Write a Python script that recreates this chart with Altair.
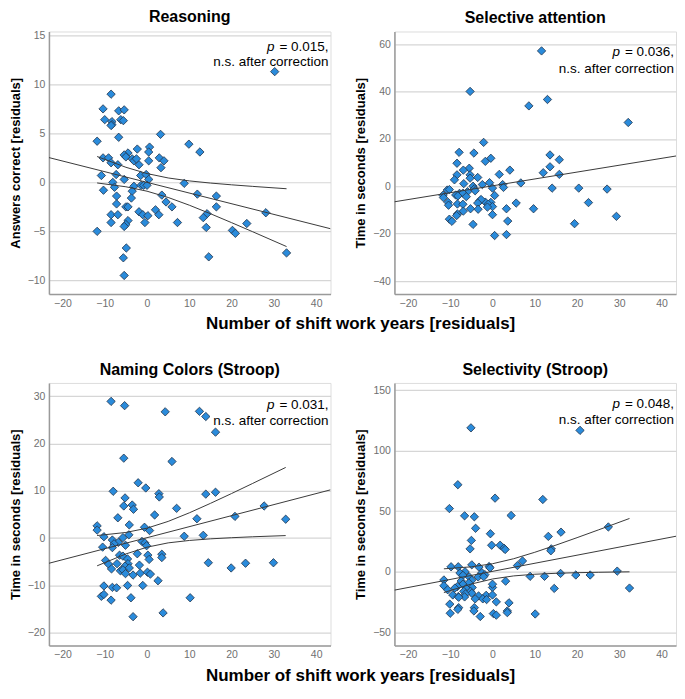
import altair as alt
import pandas as pd

X_DOMAIN = [-23.2, 43.4]
X_TICKS = [-20, -10, 0, 10, 20, 30, 40]
X_TITLE = "Number of shift work years [residuals]"

# ---------------- Reasoning ----------------
reas_x = [30.2, -8.5, -10.4, -10.0, -8.3, -8.3, -8.5, -6.7, -5.4, -6.2, -5.6, -11.8, -6.7, 3.2, 9.9, 12.5,
          -2.3, 0.6, 0.4, -4.5, -5.4, -5.0, -3.5, -3.1, 2.9, 4.0, 0.4, -10.4, -9.1, -8.5, -6.9, -1.9, -2.5,
          3.3, -7.3, -10.8, -1.5, -0.2, 0.4, -5.4, -8.1, -7.7, -10.3, -3.1, -1.4, -0.8, 0.0, 8.8, -3.5,
          -3.7, -7.2, 3.5, 11.9, 16.4, 4.5, -7.2, -5.0, -4.5, 5.9, 16.4, 2.0, -1.9, -1.0, 0.2, 2.8, -8.5,
          -6.9, 28.1, 14.2, 13.3, -4.5, -0.5, -8.5, 7.2, 23.6, -5.0, -5.4, 14.0, -11.8, 20.2, 20.9, -4.9,
          -5.6, 14.6, 33.0, -5.4]
reas_y = [11.3, 9.0, 7.5, 6.4, 6.2, 5.9, 5.8, 7.3, 7.4, 6.4, 6.3, 4.2, 4.6, 4.9, 3.9, 3.1,
          3.4, 3.6, 3.1, 3.0, 2.8, 2.6, 2.4, 2.2, 2.5, 2.2, 2.2, 2.5, 2.5, 2.0, 1.8, 1.8, 2.4,
          1.5, 0.8, 0.7, 0.7, 0.8, 0.3, 0.3, 0.0, -0.5, -0.8, -0.4, -0.3, -0.3, -0.3, -0.1, -0.9,
          -1.6, -1.4, -1.3, -1.2, -1.4, -2.0, -2.2, -2.5, -2.5, -2.5, -2.5, -2.8, -3.0, -3.3, -3.4, -3.3, -3.3,
          -3.3, -3.1, -3.2, -3.6, -3.9, -4.1, -4.1, -4.1, -4.2, -4.3, -4.5, -4.6, -5.0, -4.9, -5.2, -6.7,
          -7.7, -7.6, -7.2, -9.5]
reas_fit_y = [2.53, -4.73]
reas_ci_x = [-11.8, -5, 0, 5, 10, 15, 20, 25, 33]
reas_ci_hi = [2.64, 1.54, 0.90, 0.45, 0.15, -0.07, -0.25, -0.41, -0.65]
reas_ci_lo = [-0.06, -0.45, -0.90, -1.54, -2.33, -3.20, -4.11, -5.04, -6.55]

# ---------------- Selective attention ----------------
sel_x = [11.6, -5.3, 13.0, 8.6, 32.1, -2.1, -7.9, -4.4, 13.6, 15.8, -0.4, -1.7, -8.4, -5.5, 13.6, -6.9,
         4.1, -8.4, -5.3, -3.5, 1.6, 12.0, 15.8, -5.3, -9.0, -0.7, 6.7, -6.8, -2.4, -4.6, 2.4, 2.6, 0.0,
         -4.3, 14.1, 20.4, 27.1, -10.7, -10.2, -4.1, -5.9, -7.8, -7.0, -8.7, -11.7, -11.6, -6.2, -8.2, 0.5,
         -3.0, -1.7, -2.7, -3.5, -0.4, -1.0, 0.0, -1.2, 5.6, 22.7, -10.5, -10.4, -8.3, -7.0, -5.2, -3.4,
         3.3, 9.7, 0.0, -8.3, -8.5, -6.9, -10.2, -9.6, -4.6, 3.6, 29.3, 19.4, 0.5, 3.3]
sel_y = [57.1, 40.0, 36.6, 33.9, 26.9, 18.5, 14.3, 14.0, 13.2, 11.2, 11.8, 10.5, 9.7, 7.6, 8.2, 6.8,
         6.8, 4.8, 4.8, 3.7, 5.0, 5.7, 5.0, 3.4, 2.7, 1.5, 1.4, 1.1, 0.7, 0.0, 0.7, -0.5, -0.8,
         -1.1, -0.8, -0.8, -1.2, -1.6, -1.4, -1.9, -2.3, -3.0, -2.9, -3.7, -3.8, -4.8, -4.4, -4.1, -3.9,
         -6.1, -6.7, -5.6, -7.1, -6.8, -7.6, -8.6, -8.8, -7.1, -6.9, -6.8, -8.0, -7.5, -7.6, -9.5, -9.7,
         -9.5, -9.5, -12.0, -11.7, -12.4, -10.5, -13.9, -14.8, -16.1, -14.7, -12.7, -15.8, -20.8, -20.4]
sel_fit_y = [-6.56, 12.76]

# ---------------- Naming Colors (Stroop) ----------------
nam_x = [-8.5, -5.3, 4.3, 12.4, 13.9, 16.2, -5.5, 5.9, -2.1, -0.3, -8.0, 2.8, 2.9, 16.2, 13.9, -5.2,
         -5.5, -3.5, -3.2, 7.0, 27.7, -6.9, 1.8, 11.8, 20.8, 32.8, -4.2, -11.8, -11.8, -0.6, 0.6, -4.3,
         -10.2, -5.7, 8.8, 13.3, -8.2, -6.8, -1.2, -0.5, -0.1, -5.1, -7.8, -10.5, -8.2, -2.3, -6.5, -5.7,
         0.2, 3.5, 3.5, 0.5, -4.6, -9.8, -9.1, -7.1, -4.5, -1.8, -5.2, -8.4, -4.2, -6.3, -5.7, -5.1, -1.6,
         0.1, 0.8, -3.3, 14.5, 19.9, 23.3, 29.9, 2.6, -10.2, -8.2, -7.2, -4.6, -1.0, -10.8, -10.2, -8.5,
         -3.8, 10.2, 3.8, -3.3]
nam_y = [28.9, 28.0, 26.7, 26.8, 25.7, 22.4, 16.9, 16.2, 11.7, 10.6, 9.9, 9.4, 8.7, 9.7, 9.3, 8.5,
         6.8, 7.0, 6.1, 6.3, 6.8, 4.3, 4.9, 4.1, 4.6, 4.0, 2.8, 2.6, 1.7, 2.3, 1.6, 0.7,
         0.3, 0.1, 0.4, 0.6, -0.4, -0.9, -0.7, -1.0, -1.6, -1.5, -1.2, -1.9, -2.0, -3.3, -3.6, -3.8,
         -3.6, -3.4, -4.1, -4.5, -4.4, -4.7, -5.5, -5.4, -5.4, -5.7, -5.9, -6.5, -6.3, -6.9, -6.7, -7.5, -7.4,
         -7.2, -7.6, -7.8, -5.2, -6.3, -5.3, -5.2, -9.0, -10.1, -10.4, -10.5, -10.0, -10.0, -12.3, -11.9, -13.1,
         -12.6, -12.6, -15.8, -16.6]
nam_fit_y = [-5.31, 10.21]
nam_ci_x = [-11.8, -5, 0, 5, 10, 15, 20, 25, 32.8]
nam_ci_hi = [0.55, 1.20, 2.11, 3.54, 5.35, 7.35, 9.43, 11.57, 14.94]
nam_ci_lo = [-5.85, -3.34, -1.91, -1.00, -0.49, -0.15, 0.09, 0.29, 0.54]

# ---------------- Selectivity (Stroop) ----------------
stv_x = [-5.1, 20.7, -8.2, 0.6, 11.9, -10.2, -6.6, -4.3, 4.4, -4.0, 27.4, 16.2, 13.2, -0.5, -5.0, -0.2,
         1.8, 2.7, 3.0, -5.3, 13.9, 13.8, 7.1, 5.9, -4.9, -9.8, -8.1, -3.2, -0.8, -0.6, -6.5, -7.7, -2.5,
         -1.8, 29.5, -7.0, -5.5, -3.4, -2.1, 8.9, 12.3, 16.1, 19.7, 23.1, -11.5, -4.9, -7.4, -5.6, 3.1,
         -7.0, -4.8, -8.3, -11.5, -8.9, 0.0, 0.0, 14.6, 32.4, -10.6, -6.2, -6.8, -5.2, -4.9, -6.4, -6.6,
         -9.4, -8.1, -1.5, 0.0, -3.3, -2.3, -1.4, -4.1, -8.0, 0.9, 3.9, -8.0, -8.2, -10.1, -4.3, -4.4,
         -2.9, -10.0, 3.5, 3.5, 0.2, 0.9, 10.1]
stv_y = [118.9, 116.8, 71.9, 60.8, 59.7, 52.2, 46.2, 45.4, 46.5, 35.9, 37.0, 32.7, 29.2, 31.4, 25.9, 21.9,
         21.9, 19.5, 18.4, 18.9, 18.9, 17.3, 8.9, 5.1, 5.7, 4.1, 4.1, 3.8, 4.3, 3.2, 0.0, -1.1, -0.8,
         -2.4, 0.5, -3.0, -4.3, -4.3, -4.1, -3.8, -3.8, -1.4, -2.7, -2.7, -6.8, -7.0, -7.6, -9.2, -7.8,
         -10.3, -13.0, -12.2, -11.6, -13.5, -13.0, -10.3, -13.8, -13.5, -14.9, -13.8, -16.2, -16.2, -17.8, -18.4, -20.8,
         -19.2, -20.5, -19.5, -19.2, -20.0, -22.4, -23.0, -22.4, -21.1, -24.9, -25.7, -29.7, -31.1, -26.8, -29.7, -32.4,
         -37.0, -34.3, -32.4, -33.8, -34.6, -35.9, -34.9]
stv_fit_y = [-15.20, 29.33]
stv_ci_x = [-11.5, -5, 0, 5, 10, 15, 20, 25, 32.4]
stv_ci_hi = [2.4, 4.05, 6.6, 10.75, 16.06, 21.98, 28.16, 34.5, 44.0]
stv_ci_lo = [-17.2, -10.15, -6.0, -3.45, -2.08, -1.3, -0.8, -0.45, -0.07]

W = 282
H = 263
FONT = "Liberation Sans"
TICK_FONT = "Liberation Sans Narrow, Liberation Sans, Arial"
FILL = "#2a8bdb"
EDGE = "#22344a"
LINE = "#3a3a3a"


def panel(title, ytitle, px, py, ydom, yticks, fit_y, ci, pval, ty1, ty2):
    xs = alt.Scale(domain=X_DOMAIN, nice=False, zero=False)
    ys = alt.Scale(domain=ydom, nice=False, zero=False)
    xax = alt.Axis(values=X_TICKS, grid=False, ticks=False, domainColor="#9a9a9a", domainWidth=1.5,
                   labelColor="#707070", labelFont=TICK_FONT, labelFontSize=10.5, labelPadding=4)
    yax = alt.Axis(values=yticks, grid=True, gridColor="#d6d6d6", gridWidth=1.2, ticks=False,
                   domainColor="#9a9a9a", domainWidth=1.5, labelColor="#707070", labelFont=TICK_FONT,
                   labelFontSize=10.5, labelPadding=4, title=ytitle, titleFont=FONT, titleFontSize=13,
                   titleFontWeight="bold", titleColor="#000000", titlePadding=5)
    pts = alt.Chart(pd.DataFrame({"x": px, "y": py})).mark_point(
        shape="diamond", filled=True, size=70, fill=FILL, stroke=EDGE, strokeWidth=0.8, opacity=1
    ).encode(x=alt.X("x:Q", scale=xs, axis=xax, title=None), y=alt.Y("y:Q", scale=ys, axis=yax))
    fit = alt.Chart(pd.DataFrame({"x": X_DOMAIN, "y": fit_y})).mark_line(
        color=LINE, strokeWidth=1, clip=True
    ).encode(x=alt.X("x:Q", scale=xs), y=alt.Y("y:Q", scale=ys))
    layers = [pts, fit]
    if ci is not None:
        cdf = pd.DataFrame({"x": ci[0], "hi": ci[1], "lo": ci[2]})
        for col in ["hi", "lo"]:
            layers.append(alt.Chart(cdf).mark_line(color=LINE, strokeWidth=1, clip=True).encode(
                x=alt.X("x:Q", scale=xs), y=alt.Y(col + ":Q", scale=ys)))
    tdf = pd.DataFrame({"a": ["p"], "b": ["= " + pval + ","], "c": ["n.s. after correction"]})
    layers.append(alt.Chart(tdf).mark_text(align="right", baseline="middle", font=FONT, fontSize=13.5,
                                           fontStyle="italic", color="#000").encode(
        x=alt.value(W - 56), y=alt.value(ty1), text="a:N"))
    layers.append(alt.Chart(tdf).mark_text(align="right", baseline="middle", font=FONT, fontSize=13.5,
                                           color="#000").encode(
        x=alt.value(W - 2), y=alt.value(ty1), text="b:N"))
    layers.append(alt.Chart(tdf).mark_text(align="right", baseline="middle", font=FONT, fontSize=13.5,
                                           color="#000").encode(
        x=alt.value(W - 2), y=alt.value(ty2), text="c:N"))
    return alt.layer(*layers).properties(
        width=W, height=H,
        title=alt.TitleParams(title, font=FONT, fontSize=16, fontWeight="bold", color="#000",
                              anchor="middle", frame="group", offset=5))


p1 = panel("Reasoning", "Answers correct [residuals]", reas_x, reas_y, [-11.4, 15.4],
           [-10, -5, 0, 5, 10, 15], reas_fit_y, (reas_ci_x, reas_ci_hi, reas_ci_lo), "0.015", 16, 31)
p2 = panel("Selective attention", "Time in seconds [residuals]", sel_x, sel_y, [-45.5, 65.3],
           [-40, -20, 0, 20, 40, 60], sel_fit_y, None, "0.036", 21, 38)
p3 = panel("Naming Colors (Stroop)", "Time in seconds [residuals]", nam_x, nam_y, [-22.7, 32.8],
           [-20, -10, 0, 10, 20, 30], nam_fit_y, (nam_ci_x, nam_ci_hi, nam_ci_lo), "0.031", 22, 38)
p4 = panel("Selectivity (Stroop)", "Time in seconds [residuals]", stv_x, stv_y, [-61, 156],
           [-50, 0, 50, 100, 150], stv_fit_y, (stv_ci_x, stv_ci_hi, stv_ci_lo), "0.048", 21, 37)


def row(a, b):
    return alt.hconcat(a, b, spacing=22).properties(
        title=alt.TitleParams(X_TITLE, orient="bottom", anchor="middle", font=FONT, fontSize=17,
                              fontWeight="bold", color="#000", offset=7, dx=18))


chart = alt.vconcat(row(p1, p2), row(p3, p4), spacing=29).properties(
    padding={"left": 0, "top": 0, "right": 0, "bottom": 0}
).configure_view(stroke=None).configure(background="white")

chart.save("out.html", embed_options={"renderer": "svg", "actions": False})
